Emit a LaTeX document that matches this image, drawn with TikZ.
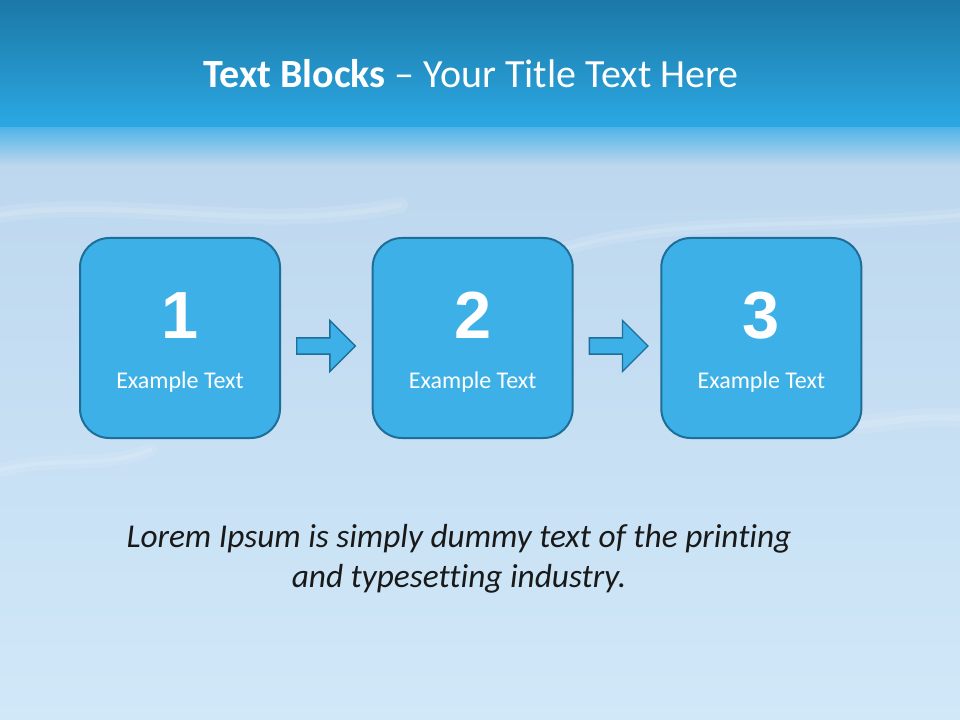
\documentclass[tikz,border=0pt]{standalone}
\usepackage{fontspec}
\setmainfont{Carlito}[Ligatures={TeX,NoCommon}]
\newfontfamily\numfont{Liberation Sans}
\usetikzlibrary{positioning,shapes.arrows}
\definecolor{bandtop}{HTML}{1C78A6}
\definecolor{bandbot}{HTML}{2BA8E3}
\definecolor{bgtop}{HTML}{BCD6EE}
\definecolor{bgbot}{HTML}{D0E8F8}
\definecolor{boxfill}{HTML}{3DB1E7}
\definecolor{boxline}{HTML}{1D6E98}
\tikzset{
  block/.style={draw=boxline, fill=boxfill, line width=1.5pt, rounded corners=22pt,
    minimum width=150pt, minimum height=150pt, inner sep=0pt},
  blocknum/.style={anchor=base, text=white, font=\numfont\bfseries\fontsize{50}{50}\selectfont},
  blocklabel/.style={anchor=base, text=white, font=\fontsize{18}{21}\selectfont},
  blockarrow/.style={shape=single arrow, draw=boxline, fill=boxfill, line width=1pt,
    minimum height=44pt, inner xsep=0pt, inner ysep=5.6pt, single arrow head extend=13pt},
  streak/.style={white, line cap=round, opacity=0.12},
}
\begin{document}
\begin{tikzpicture}[x=0.75pt,y=-0.75pt]
    \useasboundingbox (0,0) rectangle (960,720);
    % Background
    \shade[top color=bgtop, bottom color=bgbot] (0,127) rectangle (960,720);
    \shade[top color=bandbot!75!bgtop, bottom color=bgtop] (0,127) rectangle (960,165);
    \shade[top color=bandtop, bottom color=bandbot] (0,0) rectangle (960,127);
    % Light streaks
    \draw[streak, line width=12pt] (0,215) .. controls (120,195) and (260,235) .. (400,205);
    \draw[streak, line width=4pt] (0,215) .. controls (120,195) and (260,235) .. (400,205);
    \draw[streak, line width=10pt] (560,250) .. controls (680,215) and (800,230) .. (960,215);
    \draw[streak, line width=3pt] (560,250) .. controls (680,215) and (800,230) .. (960,215);
    \draw[streak, line width=14pt] (860,425) .. controls (900,420) and (930,415) .. (960,418);
    \draw[streak, line width=5pt] (860,425) .. controls (900,420) and (930,415) .. (960,418);
    \draw[streak, line width=10pt] (0,470) .. controls (60,455) and (100,470) .. (150,450);
    \draw[streak, line width=3pt] (0,470) .. controls (60,455) and (100,470) .. (150,450);

    % Title
    \node[anchor=base, text=white, font=\fontsize{30}{36}\selectfont] (title) at (471,88)
        {\textbf{Text Blocks} -- Your Title Text Here};

    % Block 1
    \node[block] (box1) at (180,338) {};
    \node[blocknum] (num1) at ([yshift=-0.75pt]box1.center) {1};
    \node[blocklabel] (lbl1) at ([yshift=-38pt]box1.center) {Example Text};

    % Block 2
    \node[block, right=68pt of box1] (box2) {};
    \node[blocknum] (num2) at ([yshift=-0.75pt]box2.center) {2};
    \node[blocklabel] (lbl2) at ([yshift=-38pt]box2.center) {Example Text};

    % Block 3
    \node[block, right=65pt of box2] (box3) {};
    \node[blocknum] (num3) at ([yshift=-0.75pt]box3.center) {3};
    \node[blocklabel] (lbl3) at ([yshift=-38pt]box3.center) {Example Text};

    % Arrows between blocks
    \node[blockarrow, right=11.25pt of box1, yshift=-6pt] (arr1) {};
    \node[blockarrow, right=11.25pt of box2, yshift=-6pt] (arr2) {};

    % Caption
    \node[align=center, text=black!90, font=\itshape\fontsize{25}{30}\selectfont] (body) at (459,559)
        {Lorem Ipsum is simply dummy text of the printing\\and typesetting industry.};
\end{tikzpicture}
\end{document}
